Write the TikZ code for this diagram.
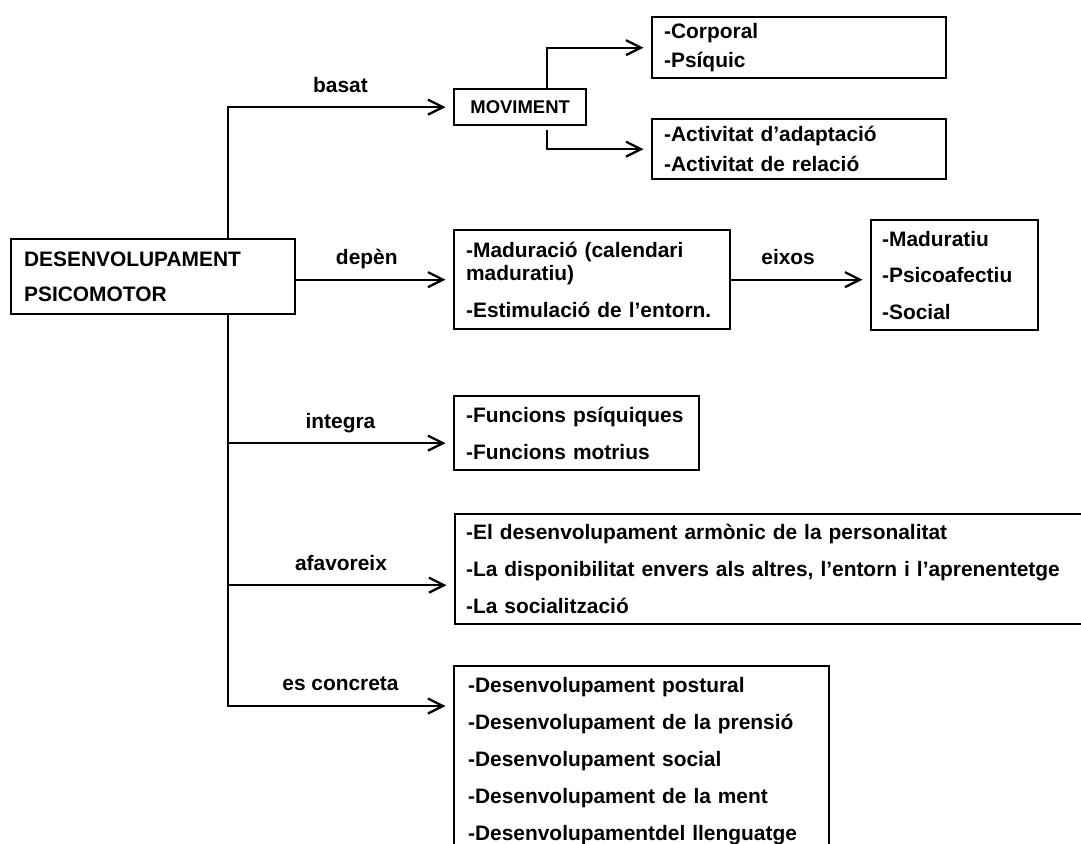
\documentclass[tikz,border=0pt]{standalone}
\usepackage{fontspec}
\setmainfont{Liberation Sans}
\usetikzlibrary{arrows.meta,positioning}

\tikzset{
  caixa/.style={draw, line width=1.3pt, anchor=north west, align=left, inner ysep=0pt,
    font=\fontsize{11.9}{21}\selectfont\bfseries},
  fletxa/.style={-{Straight Barb[length=0.3cm,width=0.3cm]}, line width=1.3pt, shorten >=0.15cm},
  etiqueta/.style={above=0.28cm, inner sep=0pt, text depth=0pt,
    font=\fontsize{11.9}{14}\selectfont\bfseries}
}

\begin{document}
\begin{tikzpicture}[x=0.02cm, y=-0.02cm]
    \useasboundingbox (0,0) rectangle (1081,843);
    \fill[white] (0,0) rectangle (1081,843);
    \clip (0,0) rectangle (1081,843);

    % caixes
    \node[caixa, inner xsep=0.26cm, text width=5.16cm, minimum height=1.5cm, font=\fontsize{11.9}{19.9}\selectfont\bfseries] (psico) at (10,238) {DESENVOLUPAMENT\\PSICOMOTOR};
    \node[caixa, align=center, minimum width=2.64cm, minimum height=0.72cm, font=\fontsize{10.5}{12}\selectfont\bfseries] (moviment) at (453,88) {MOVIMENT};
    \node[caixa, inner xsep=0.24cm, text width=5.4cm, minimum height=1.22cm, font=\fontsize{11.9}{16.8}\selectfont\bfseries] (corporal) at (651,16) {-Corporal\\-Psíquic};
    \node[caixa, inner xsep=0.24cm, text width=5.4cm, minimum height=1.2cm, font=\fontsize{11.9}{16.8}\selectfont\bfseries] (activitat) at (651,118) {-Activitat d’adaptació\\-Activitat de relació};
    \node[caixa, inner xsep=0.24cm, text width=5.04cm, minimum height=1.98cm, font=\fontsize{11.9}{13.1}\selectfont\bfseries] (maduracio) at (453,229) {-Maduració (calendari\\maduratiu)\\[0.28cm]-Estimulació de l’entorn.};
    \node[caixa, inner xsep=0.22cm, text width=2.9cm, minimum height=2.2cm, font=\fontsize{11.9}{20.8}\selectfont\bfseries] (maduratiu) at (870,219) {-Maduratiu\\-Psicoafectiu\\-Social};
    \node[caixa, inner xsep=0.24cm, text width=4.42cm, minimum height=1.48cm] (funcions) at (453,395) {-Funcions psíquiques\\-Funcions motrius};
    \node[caixa, inner xsep=0.22cm, text width=12.68cm, minimum height=2.2cm] (afavoreix) at (454,513) {-El desenvolupament armònic de la personalitat\\-La disponibilitat envers als altres, l’entorn i l’aprenentetge\\-La socialització};
    \node[caixa, inner xsep=0.28cm, text width=6.94cm, minimum height=3.8cm] (concreta) at (453,665) {-Desenvolupament postural\\-Desenvolupament de la prensió\\-Desenvolupament social\\-Desenvolupament de la ment\\-Desenvolupamentdel llenguatge};

    % punts de pas
    \coordinate (tronc) at (228,0);
    \coordinate (branca) at (547,0);
    \coordinate (fi-integra) at ([yshift=-0.2cm]funcions.west);
    \coordinate (fi-afavoreix) at ([yshift=-0.32cm]afavoreix.west);
    \coordinate (fi-concreta) at ([yshift=-0.82cm]concreta.north west);

    % fletxes
    \draw[fletxa] (psico.north -| tronc) |- node[etiqueta, pos=0.75] {basat} (moviment.west);
    \draw[fletxa] (maduracio.west -| psico.east) -- node[etiqueta, pos=0.45] {depèn} (maduracio.west);
    \draw[fletxa] (psico.south -| tronc) |- node[etiqueta, pos=0.75] {es concreta} (fi-concreta);
    \draw[fletxa] (tronc |- fi-integra) -- node[etiqueta] {integra} (fi-integra);
    \draw[fletxa] (tronc |- fi-afavoreix) -- node[etiqueta] {afavoreix} (fi-afavoreix);
    \draw[fletxa] (moviment.north -| branca) |- (corporal.west);
    \draw[fletxa, shorten <=0.08cm] (moviment.south -| branca) |- (activitat.west);
    \draw[fletxa] (maduracio.east) -- node[etiqueta, pos=0.41] {eixos} (maduracio.east -| maduratiu.west);
\end{tikzpicture}
\end{document}
